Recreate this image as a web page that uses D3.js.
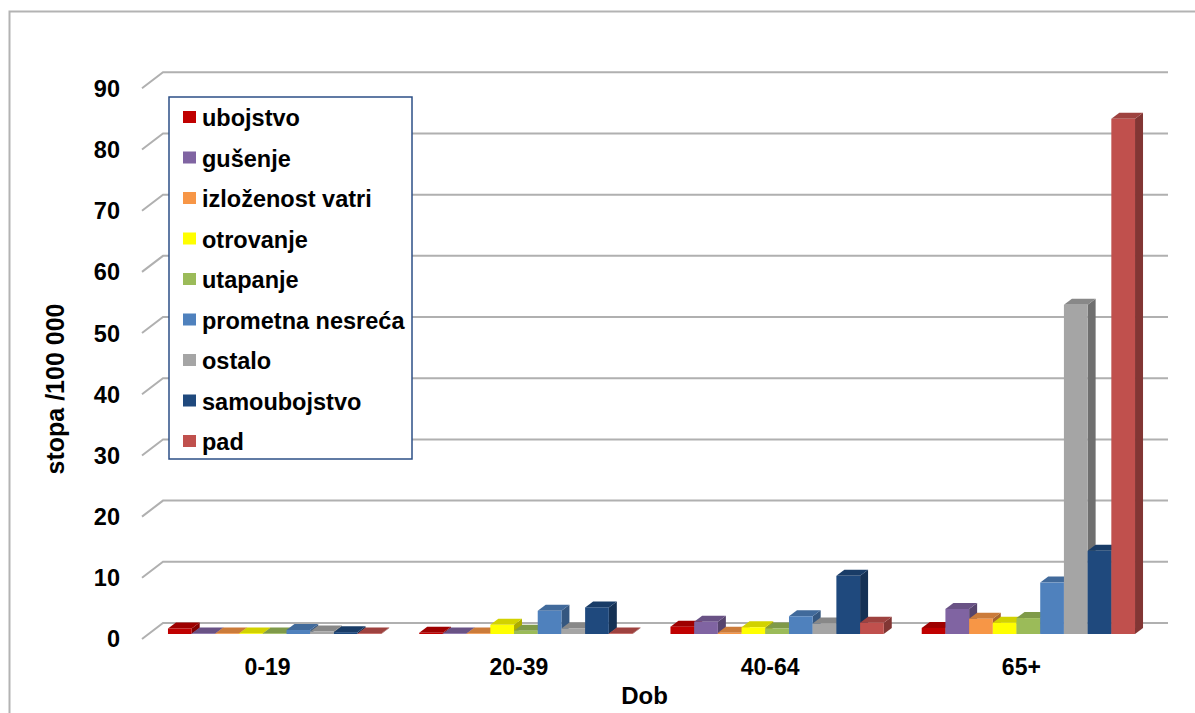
<!DOCTYPE html>
<html>
<head>
<meta charset="utf-8">
<script src="https://cdn.jsdelivr.net/npm/d3@7"></script>
<style>
  body { margin: 0; background: #fff; }
  text { font-family: "Liberation Sans", Arial, sans-serif; font-weight: bold; fill: #000; }
</style>
</head>
<body>
<div id="chart-container"></div>
<script>
// data
const categories = ['0-19', '20-39', '40-64', '65+'];
const seriesNames = ['ubojstvo', 'gušenje', 'izloženost vatri', 'otrovanje', 'utapanje',
  'prometna nesreća', 'ostalo', 'samoubojstvo', 'pad'];
const seriesColors = ['#C00000', '#8064A2', '#F79646', '#FFFF00', '#9BBB59',
  '#4F81BD', '#A5A5A5', '#1F497D', '#C0504D'];
// one array per age group, in series order
const age0to19 = [0.9, 0.1, 0.1, 0.1, 0.1, 0.65, 0.4, 0.3, 0.1];
const age20to39 = [0.2, 0.1, 0.1, 1.5, 0.55, 3.8, 0.9, 4.35, 0.1];
const age40to64 = [1.2, 2.0, 0.2, 1.1, 0.9, 2.9, 1.7, 9.5, 1.85];
const age65plus = [1.0, 4.1, 2.5, 1.85, 2.6, 8.4, 53.8, 13.6, 84.2];
const yTicks = [0, 10, 20, 30, 40, 50, 60, 70, 80, 90];

const values = [age0to19, age20to39, age40to64, age65plus];

{
  const width = 1195;
  const height = 713;

  // 3d geometry: front plane, back wall offset, bar plane offset, bar depth
  const wall = { dx: 21, dy: -16 };
  const barPlane = { dx: 7, dy: -5 };
  const barDepth = { dx: 8, dy: -6 };

  const svg = d3.select('#chart-container')
    .append('svg')
    .attr('width', width)
    .attr('height', height);

  // outer chart border
  svg.append('rect')
    .attr('x', 9.5).attr('y', 11.5)
    .attr('width', 1200).attr('height', 720)
    .attr('fill', 'none')
    .attr('stroke', '#b3b3b3')
    .attr('stroke-width', 2);

  // scales (front plane)
  const x0 = d3.scaleBand()
    .domain(categories)
    .range([142, 1147])
    .paddingInner(0.151)
    .paddingOuter(0.0755);
  const x1 = d3.scaleBand()
    .domain(seriesNames)
    .range([0, x0.bandwidth()]);
  const y = d3.scaleLinear()
    .domain([0, 90])
    .range([639, 88.3]);

  // gridlines on back wall + left wall diagonals
  const grid = svg.append('g').attr('stroke', '#b0b0b0').attr('stroke-width', 2).attr('fill', 'none');
  yTicks.forEach(t => {
    grid.append('path')
      .attr('d', `M${x0.range()[0]},${y(t)} L${x0.range()[0] + wall.dx},${y(t) + wall.dy} L${x0.range()[1] + wall.dx},${y(t) + wall.dy}`);
  });

  // y tick labels
  svg.append('g').selectAll('text')
    .data(yTicks)
    .join('text')
    .attr('x', 120)
    .attr('y', d => y(d))
    .attr('dy', '0.36em')
    .attr('text-anchor', 'end')
    .style('font-size', '23.5px')
    .text(d => d);

  // bars
  const bars = [];
  categories.forEach((c, ci) => {
    seriesNames.forEach((s, si) => {
      bars.push({ cat: c, series: s, value: values[ci][si], color: seriesColors[si] });
    });
  });

  const barG = svg.append('g');
  const bw = x1.bandwidth();
  bars.forEach(d => {
    const left = x0(d.cat) + x1(d.series) + barPlane.dx;
    const top = y(d.value) + barPlane.dy;
    const bottom = y(0) + barPlane.dy;
    const base = d3.color(d.color);
    const g = barG.append('g');
    // side face
    g.append('path')
      .attr('d', `M${left + bw},${bottom} L${left + bw + barDepth.dx},${bottom + barDepth.dy} L${left + bw + barDepth.dx},${top + barDepth.dy} L${left + bw},${top} Z`)
      .attr('fill', base.darker(1.1));
    // top face
    g.append('path')
      .attr('d', `M${left},${top} L${left + barDepth.dx},${top + barDepth.dy} L${left + bw + barDepth.dx},${top + barDepth.dy} L${left + bw},${top} Z`)
      .attr('fill', base.darker(0.55));
    // front face
    g.append('rect')
      .attr('x', left)
      .attr('y', top)
      .attr('width', bw)
      .attr('height', Math.max(0, bottom - top))
      .attr('fill', d.color);
  });

  // category labels
  svg.append('g').selectAll('text')
    .data(categories)
    .join('text')
    .attr('x', d => x0(d) + x0.bandwidth() / 2)
    .attr('y', 675)
    .attr('text-anchor', 'middle')
    .style('font-size', '23px')
    .text(d => d);

  // axis titles
  svg.append('text')
    .attr('x', (x0.range()[0] + x0.range()[1]) / 2)
    .attr('y', 704)
    .attr('text-anchor', 'middle')
    .style('font-size', '24px')
    .text('Dob');

  svg.append('text')
    .attr('transform', 'translate(64, 389) rotate(-90)')
    .attr('text-anchor', 'middle')
    .style('font-size', '25px')
    .text('stopa /100 000');

  // legend
  const legend = svg.append('g').attr('transform', 'translate(169, 97)');
  legend.append('rect')
    .attr('width', 243)
    .attr('height', 362)
    .attr('fill', '#fff')
    .attr('stroke', '#2c4f86')
    .attr('stroke-width', 1.5);
  const item = legend.selectAll('g.item')
    .data(seriesNames)
    .join('g')
    .attr('class', 'item')
    .attr('transform', (d, i) => `translate(14, ${14 + i * 40.5})`);
  item.append('rect')
    .attr('width', 13)
    .attr('height', 12)
    .attr('fill', (d, i) => seriesColors[i]);
  item.append('text')
    .attr('x', 19)
    .attr('y', 15)
    .style('font-size', '23.5px')
    .text(d => d);
}
</script>
</body>
</html>
